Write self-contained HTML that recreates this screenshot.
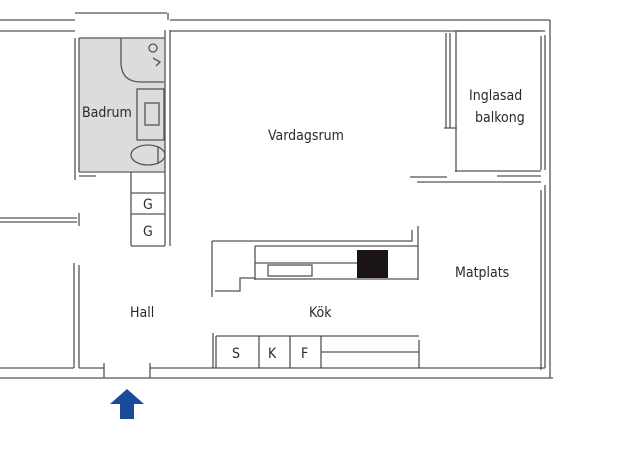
<!DOCTYPE html>
<html><head><meta charset="utf-8"><style>
html,body{margin:0;padding:0;background:#fff;width:625px;height:460px;overflow:hidden}
svg{display:block}
text{font-family:"DejaVu Sans Condensed","Liberation Sans Narrow","Liberation Sans",sans-serif;fill:#2a2a2a;font-size:14px}
</style></head><body>
<svg width="625" height="460" viewBox="0 0 625 460" xmlns="http://www.w3.org/2000/svg">
<g stroke="#555" stroke-width="1.3" fill="none">
<rect x="79" y="38" width="86" height="133" fill="#dcdcdc" stroke="none"/>
<path d="M0 20H75 M0 31H75 M170 20H550 M170 31H545 M75 13H167 M168 13V20"/>
<path d="M550 20V378 M545 35V170 M545 185V368 M541 36V170 M541 190V370"/>
<path d="M456 31V172 M446 33V128 M450 33V128 M444 128H457 M456 31H541 M455 171H541 M410 177H447 M417 182H541 M497 176H541"/>
<path d="M0 378H553 M0 368H74 M79 368H104 M150 368H545 M104 363V378 M150 363V378 M74 263V368 M79 265V368"/>
<path d="M0 218H77 M0 222H77 M79 213V226"/>
<path d="M75 38V180 M79 38V172 M165 30V246 M170 30V246 M79 38H165 M79 172H165 M79 176H96 M131 172V246 M131 193H165 M131 214H165 M131 246H165"/>
<path d="M121 38V62 Q121 82 141 82 H164"/>
<circle cx="153" cy="48" r="4"/>
<path d="M153 58 L160 62 L156 66"/>
<rect x="137" y="89" width="27" height="51"/>
<rect x="145" y="103" width="14" height="22"/>
<ellipse cx="148" cy="155" rx="17" ry="10"/>
<path d="M158 146V164"/>
<path d="M212 241H412V230 M418 226V280 M212 241V297 M255 246H418 M255 246V280 M255 263H357 M255 279H418 M215 291H240V278H255"/>
<rect x="268" y="265" width="44" height="11"/>
<path d="M213 333V368 M216 336H419 M216 336V368 M259 336V368 M290 336V368 M321 336V368 M321 352H419 M419 340V368"/>
</g>
<rect x="357" y="250" width="31" height="28" fill="#1a1414"/>
<polygon points="127,389 144,404 134,404 134,419 120,419 120,404 110,404" fill="#1a4a9a"/>
<text x="82" y="117">Badrum</text>
<text x="268" y="140">Vardagsrum</text>
<text x="469" y="100">Inglasad</text>
<text x="475" y="122">balkong</text>
<text x="455" y="277">Matplats</text>
<text x="130" y="317">Hall</text>
<text x="309" y="317">Kök</text>
<text x="143" y="209">G</text>
<text x="143" y="236">G</text>
<text x="232" y="358">S</text>
<text x="268" y="358">K</text>
<text x="301" y="358">F</text>
</svg>
</body></html>
